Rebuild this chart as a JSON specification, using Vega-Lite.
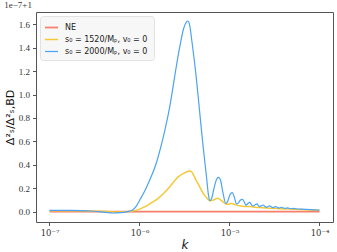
{
  "$schema": "https://vega.github.io/schema/vega-lite/v6.json",
  "width": 297,
  "height": 210,
  "autosize": "none",
  "padding": {"left": 36, "top": 12, "right": 4, "bottom": 30},
  "background": "white",
  "title": {"text": "1e−7+1", "anchor": "start", "font": "Liberation Serif", "fontSize": 9, "fontWeight": "normal", "color": "#333", "offset": 2},
  "config": {
    "view": {"stroke": "#555", "strokeWidth": 1},
    "axis": {"grid": false, "domain": false, "tickColor": "#555", "tickSize": 3.5, "labelFont": "Liberation Serif", "labelFontSize": 9, "labelColor": "#333", "titleColor": "#111"}
  },
  "data": {"values": [
    {"k": 1e-7, "v": 0, "s": "NE"},
    {"k": 1e-4, "v": 0, "s": "NE"},
    {"k": 1e-7, "v": 0.008, "s": "y"},
    {"k": 2.21e-7, "v": 0.007, "s": "y"},
    {"k": 3.687e-7, "v": 0.003, "s": "y"},
    {"k": 5.412e-7, "v": -0.002, "s": "y"},
    {"k": 6.99e-7, "v": -0.001, "s": "y"},
    {"k": 8.36e-7, "v": 0.005, "s": "y"},
    {"k": 9.75e-7, "v": 0.018, "s": "y"},
    {"k": 1.166e-6, "v": 0.045, "s": "y"},
    {"k": 1.325e-6, "v": 0.071, "s": "y"},
    {"k": 1.585e-6, "v": 0.11, "s": "y"},
    {"k": 1.862e-6, "v": 0.157, "s": "y"},
    {"k": 2.1e-6, "v": 0.2, "s": "y"},
    {"k": 2.405e-6, "v": 0.256, "s": "y"},
    {"k": 2.713e-6, "v": 0.3, "s": "y"},
    {"k": 3.106e-6, "v": 0.327, "s": "y"},
    {"k": 3.503e-6, "v": 0.345, "s": "y"},
    {"k": 3.687e-6, "v": 0.347, "s": "y"},
    {"k": 3.981e-6, "v": 0.315, "s": "y"},
    {"k": 4.299e-6, "v": 0.262, "s": "y"},
    {"k": 4.56e-6, "v": 0.227, "s": "y"},
    {"k": 5.1e-6, "v": 0.157, "s": "y"},
    {"k": 5.65e-6, "v": 0.114, "s": "y"},
    {"k": 6.07e-6, "v": 0.093, "s": "y"},
    {"k": 6.64e-6, "v": 0.1, "s": "y"},
    {"k": 7.356e-6, "v": 0.114, "s": "y"},
    {"k": 8.15e-6, "v": 0.095, "s": "y"},
    {"k": 9.1e-6, "v": 0.066, "s": "y"},
    {"k": 9.75e-6, "v": 0.064, "s": "y"},
    {"k": 1.052e-5, "v": 0.071, "s": "y"},
    {"k": 1.166e-5, "v": 0.058, "s": "y"},
    {"k": 1.325e-5, "v": 0.048, "s": "y"},
    {"k": 1.506e-5, "v": 0.045, "s": "y"},
    {"k": 1.711e-5, "v": 0.044, "s": "y"},
    {"k": 1.945e-5, "v": 0.038, "s": "y"},
    {"k": 2.326e-5, "v": 0.034, "s": "y"},
    {"k": 2.854e-5, "v": 0.03, "s": "y"},
    {"k": 3.687e-5, "v": 0.026, "s": "y"},
    {"k": 4.762e-5, "v": 0.022, "s": "y"},
    {"k": 6.15e-5, "v": 0.018, "s": "y"},
    {"k": 7.943e-5, "v": 0.015, "s": "y"},
    {"k": 1e-4, "v": 0.012, "s": "y"},
    {"k": 1e-7, "v": 0.012, "s": "b"},
    {"k": 1.711e-7, "v": 0.011, "s": "b"},
    {"k": 2.855e-7, "v": 0.006, "s": "b"},
    {"k": 4.19e-7, "v": -0.005, "s": "b"},
    {"k": 5.14e-7, "v": -0.011, "s": "b"},
    {"k": 6.15e-7, "v": -0.008, "s": "b"},
    {"k": 7.36e-7, "v": 0.0, "s": "b"},
    {"k": 8.36e-7, "v": 0.014, "s": "b"},
    {"k": 9.26e-7, "v": 0.05, "s": "b"},
    {"k": 1.026e-6, "v": 0.11, "s": "b"},
    {"k": 1.166e-6, "v": 0.19, "s": "b"},
    {"k": 1.325e-6, "v": 0.285, "s": "b"},
    {"k": 1.545e-6, "v": 0.42, "s": "b"},
    {"k": 1.788e-6, "v": 0.6, "s": "b"},
    {"k": 1.945e-6, "v": 0.72, "s": "b"},
    {"k": 2.172e-6, "v": 0.9, "s": "b"},
    {"k": 2.467e-6, "v": 1.16, "s": "b"},
    {"k": 2.643e-6, "v": 1.3, "s": "b"},
    {"k": 2.854e-6, "v": 1.44, "s": "b"},
    {"k": 3.083e-6, "v": 1.56, "s": "b"},
    {"k": 3.329e-6, "v": 1.62, "s": "b"},
    {"k": 3.44e-6, "v": 1.628, "s": "b"},
    {"k": 3.594e-6, "v": 1.6, "s": "b"},
    {"k": 3.85e-6, "v": 1.436, "s": "b"},
    {"k": 4.266e-6, "v": 1.151, "s": "b"},
    {"k": 4.642e-6, "v": 0.867, "s": "b"},
    {"k": 5.05e-6, "v": 0.583, "s": "b"},
    {"k": 5.552e-6, "v": 0.298, "s": "b"},
    {"k": 5.843e-6, "v": 0.14, "s": "b"},
    {"k": 6.04e-6, "v": 0.094, "s": "b"},
    {"k": 6.31e-6, "v": 0.11, "s": "b"},
    {"k": 6.727e-6, "v": 0.2, "s": "b"},
    {"k": 7.17e-6, "v": 0.275, "s": "b"},
    {"k": 7.545e-6, "v": 0.293, "s": "b"},
    {"k": 7.943e-6, "v": 0.27, "s": "b"},
    {"k": 8.47e-6, "v": 0.16, "s": "b"},
    {"k": 9.1e-6, "v": 0.071, "s": "b"},
    {"k": 9.5e-6, "v": 0.085, "s": "b"},
    {"k": 1.013e-5, "v": 0.145, "s": "b"},
    {"k": 1.0715e-5, "v": 0.162, "s": "b"},
    {"k": 1.136e-5, "v": 0.12, "s": "b"},
    {"k": 1.196e-5, "v": 0.066, "s": "b"},
    {"k": 1.259e-5, "v": 0.075, "s": "b"},
    {"k": 1.325e-5, "v": 0.1, "s": "b"},
    {"k": 1.394e-5, "v": 0.106, "s": "b"},
    {"k": 1.468e-5, "v": 0.08, "s": "b"},
    {"k": 1.517e-5, "v": 0.055, "s": "b"},
    {"k": 1.605e-5, "v": 0.07, "s": "b"},
    {"k": 1.681e-5, "v": 0.08, "s": "b"},
    {"k": 1.755e-5, "v": 0.06, "s": "b"},
    {"k": 1.834e-5, "v": 0.049, "s": "b"},
    {"k": 1.945e-5, "v": 0.062, "s": "b"},
    {"k": 2.032e-5, "v": 0.066, "s": "b"},
    {"k": 2.1e-5, "v": 0.05, "s": "b"},
    {"k": 2.172e-5, "v": 0.043, "s": "b"},
    {"k": 2.268e-5, "v": 0.052, "s": "b"},
    {"k": 2.368e-5, "v": 0.057, "s": "b"},
    {"k": 2.48e-5, "v": 0.045, "s": "b"},
    {"k": 2.577e-5, "v": 0.037, "s": "b"},
    {"k": 2.713e-5, "v": 0.046, "s": "b"},
    {"k": 2.805e-5, "v": 0.049, "s": "b"},
    {"k": 2.929e-5, "v": 0.04, "s": "b"},
    {"k": 3.043e-5, "v": 0.034, "s": "b"},
    {"k": 3.162e-5, "v": 0.041, "s": "b"},
    {"k": 3.286e-5, "v": 0.043, "s": "b"},
    {"k": 3.415e-5, "v": 0.035, "s": "b"},
    {"k": 3.548e-5, "v": 0.031, "s": "b"},
    {"k": 3.687e-5, "v": 0.036, "s": "b"},
    {"k": 3.831e-5, "v": 0.038, "s": "b"},
    {"k": 3.981e-5, "v": 0.031, "s": "b"},
    {"k": 4.137e-5, "v": 0.028, "s": "b"},
    {"k": 4.299e-5, "v": 0.031, "s": "b"},
    {"k": 4.467e-5, "v": 0.032, "s": "b"},
    {"k": 4.642e-5, "v": 0.027, "s": "b"},
    {"k": 4.885e-5, "v": 0.025, "s": "b"},
    {"k": 5.14e-5, "v": 0.028, "s": "b"},
    {"k": 5.412e-5, "v": 0.025, "s": "b"},
    {"k": 5.843e-5, "v": 0.023, "s": "b"},
    {"k": 6.476e-5, "v": 0.022, "s": "b"},
    {"k": 7.17e-5, "v": 0.019, "s": "b"},
    {"k": 7.943e-5, "v": 0.017, "s": "b"},
    {"k": 9.03e-5, "v": 0.015, "s": "b"},
    {"k": 1e-4, "v": 0.014, "s": "b"}
  ]},
  "mark": {"type": "line", "clip": true, "interpolate": "monotone"},
  "encoding": {
    "x": {"field": "k", "type": "quantitative",
      "scale": {"type": "log", "domain": [7.08e-8, 1.413e-4], "nice": false},
      "axis": {"values": [1e-7, 1e-6, 1e-5, 1e-4], "labelExpr": "datum.value < 5e-7 ? '10⁻⁷' : datum.value < 5e-6 ? '10⁻⁶' : datum.value < 5e-5 ? '10⁻⁵' : '10⁻⁴'", "labelFont": "DejaVu Serif", "labelFontSize": 8.5, "labelPadding": 3, "title": "k", "titleFont": "DejaVu Sans", "titleFontStyle": "italic", "titleFontWeight": "normal", "titleFontSize": 12, "titlePadding": 2}},
    "y": {"field": "v", "type": "quantitative",
      "scale": {"domain": [-0.088, 1.705], "nice": false, "zero": false},
      "axis": {"values": [0, 0.2, 0.4, 0.6, 0.8, 1.0, 1.2, 1.4, 1.6], "format": ".1f", "labelPadding": 3, "title": "Δ²ₛ/Δ²ₛ,BD", "titleFont": "DejaVu Sans", "titleFontWeight": "normal", "titleFontSize": 11, "titlePadding": 3}},
    "color": {"field": "s", "type": "nominal",
      "scale": {"domain": ["NE", "y", "b"], "range": ["#f67f6d", "#f5c936", "#4ba3f5"]},
      "legend": {"title": null, "orient": "top-left", "offset": 4, "labelExpr": "datum.value == 'NE' ? 'NE' : datum.value == 'y' ? 's₀ = 1520/Mₚ,  v₀ = 0' : 's₀ = 2000/Mₚ,  v₀ = 0'", "symbolType": "stroke", "symbolSize": 170, "symbolStrokeWidth": 1.5, "labelFont": "DejaVu Sans", "labelFontSize": 8, "labelColor": "#222", "fillColor": "#f7f7f7", "strokeColor": "#e2e2e2", "cornerRadius": 3, "padding": 4, "rowPadding": -1, "labelOffset": 6}},
    "strokeWidth": {"field": "s", "type": "nominal", "scale": {"domain": ["NE", "y", "b"], "range": [1.8, 1.2, 1.2]}, "legend": null},
    "order": {"field": "k", "type": "quantitative"}
  }
}
